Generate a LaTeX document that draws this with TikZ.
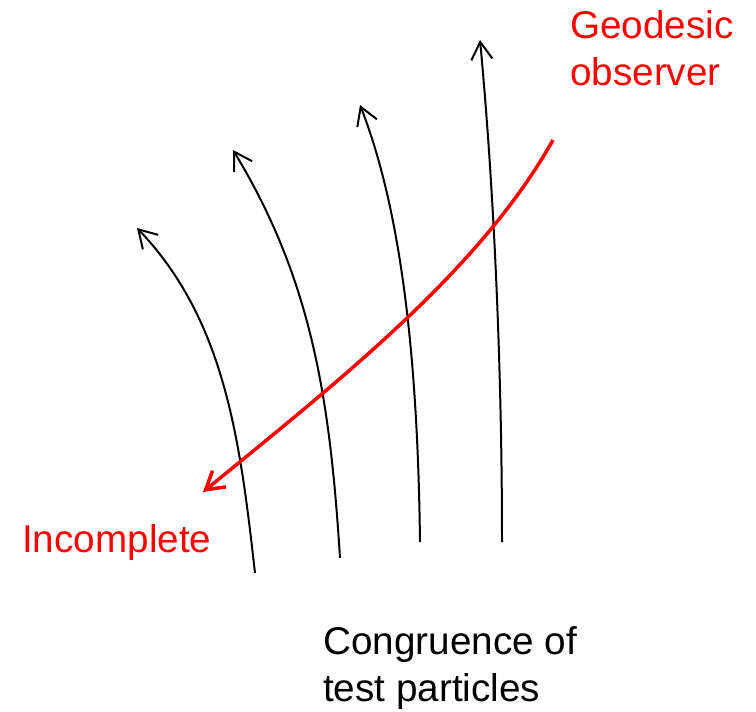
\documentclass[tikz,border=0pt]{standalone}
\usepackage{fontspec}
\setmainfont{Liberation Sans}
\usetikzlibrary{arrows.meta}
\begin{document}
\begin{tikzpicture}[x=0.03cm,y=-0.03cm,
    >={Straight Barb[length=15pt,width=18pt]},
    particle/.style={->,line width=1.7pt},
    observer/.style={->,red,line width=3pt},
    lbl/.style={font=\fontsize{33}{40}\selectfont,inner sep=0pt,align=left}]
    \useasboundingbox (0,0) rectangle (756,712);
    % congruence of test particles
    \coordinate (p1) at (255,573); \coordinate (q1) at (137,228);
    \coordinate (p2) at (340,558); \coordinate (q2) at (233,150);
    \coordinate (p3) at (420,542); \coordinate (q3) at (360,105);
    \coordinate (p4) at (502,542); \coordinate (q4) at (480,40);
    \draw[particle] (p1) .. controls (240,440) and (225,320) .. (q1);
    \draw[particle] (p2) .. controls (330,400) and (312,280) .. (q2);
    \draw[particle] (p3) .. controls (418,380) and (405,220) .. (q3);
    \draw[particle] (p4) .. controls (502,380) and (495,200) .. (q4);
    % geodesic observer
    \coordinate (o1) at (553,140); \coordinate (o2) at (203,492);
    \draw[observer] (o1) .. controls (480,270) and (340,380) .. (o2);
    \node[lbl,red,anchor=north west] (geo) at (570,10) {Geodesic\\observer};
    \node[lbl,red,anchor=west] (inc) at (22,543) {Incomplete};
    \node[lbl,anchor=north west] (cong) at (323,626) {Congruence of\\test particles};
\end{tikzpicture}
\end{document}
